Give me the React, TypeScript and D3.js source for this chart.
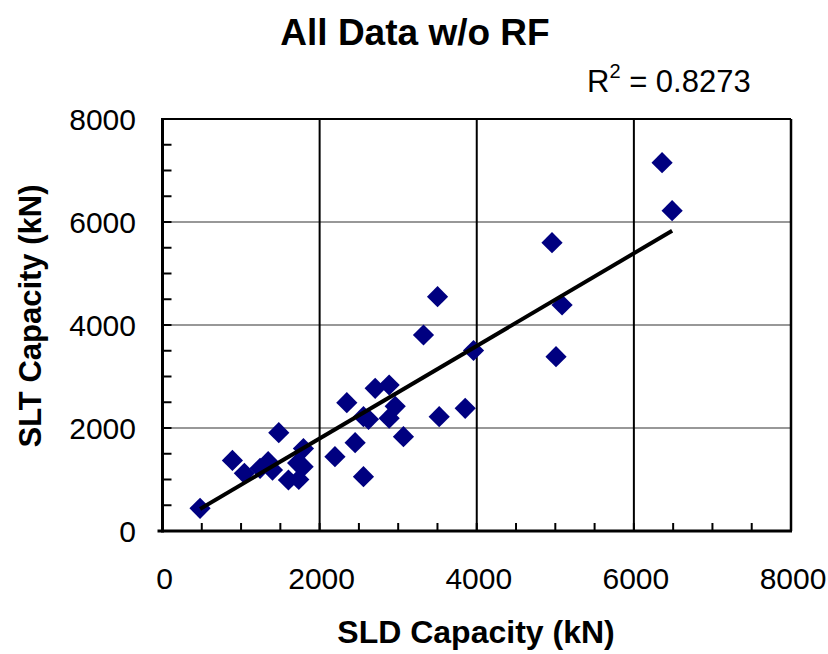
import React from "react";
import * as d3 from "d3";

const sldCapacity = [478, 890, 1042, 1242, 1345, 1400, 1480, 1603, 1735, 1794, 1720, 1790, 2195, 2346, 2452, 2558, 2558, 2622, 2707, 2885, 2962, 2885, 3067, 3322, 3501, 3522, 3853, 3959, 4958, 5009, 5086, 6359, 6487];
const sltCapacity = [441, 1370, 1120, 1217, 1346, 1184, 1909, 990, 1000, 1600, 1320, 1250, 1443, 2491, 1715, 1055, 2219, 2169, 2771, 2835, 2420, 2190, 1831, 3806, 4550, 2220, 2382, 3505, 5598, 3385, 4388, 7152, 6220];
const trendSlope = 0.899;
const trendIntercept = -2;
const majorTicks = [0, 2000, 4000, 6000, 8000];
const minorTicks = d3.range(0, 8001, 500);
const titleText = "All Data w/o RF";
const xTitle = "SLD Capacity (kN)";
const yTitle = "SLT Capacity (kN)";
const r2Value = "0.8273";

const W = 828, H = 654;
const L = 162.5, R = 791, T = 119, B = 531;

export default function App() {
  const x = d3.scaleLinear().domain([0, 8000]).range([L, R]);
  const y = d3.scaleLinear().domain([0, 8000]).range([B, T]);
  const xMin = d3.min(sldCapacity)!, xMax = d3.max(sldCapacity)!;
  const trend = d3.line<number>().x((d) => x(d)).y((d) => y(trendSlope * d + trendIntercept));
  const diamond = d3.symbol().type(d3.symbolSquare).size(15 * 15)();
  const font = "Arial, 'Liberation Sans', sans-serif";
  return (
    <svg width={W} height={H} style={{ position: "absolute", left: 0, top: 0, background: "#fff" }} fontFamily={font}>
      <rect x={0} y={0} width={W} height={H} fill="#fff" />
      {majorTicks.slice(1, -1).map((t) => (
        <line key={"h" + t} x1={L} x2={R} y1={y(t)} y2={y(t)} stroke="#333" strokeWidth={1.2} />
      ))}
      {majorTicks.slice(1, -1).map((t) => (
        <line key={"v" + t} x1={x(t)} x2={x(t)} y1={T} y2={B} stroke="#000" strokeWidth={2} />
      ))}
      {minorTicks.slice(1, -1).map((t) => (
        <line key={"mx" + t} x1={x(t)} x2={x(t)} y1={B} y2={B - 8} stroke="#000" strokeWidth={2} />
      ))}
      {minorTicks.slice(1, -1).map((t) => (
        <line key={"my" + t} x1={L} x2={L + 9} y1={y(t)} y2={y(t)} stroke="#000" strokeWidth={2} />
      ))}
      <line x1={L} x2={R} y1={T} y2={T} stroke="#000" strokeWidth={2} />
      <line x1={R} x2={R} y1={T} y2={B} stroke="#000" strokeWidth={2.5} />
      <line x1={L} x2={L} y1={T - 1} y2={B + 1.5} stroke="#000" strokeWidth={3} />
      <line x1={L - 5} x2={R + 1} y1={B} y2={B} stroke="#000" strokeWidth={3} />
      {sldCapacity.map((v, i) => (
        <path key={"p" + i} d={diamond!} transform={`translate(${x(v)},${y(sltCapacity[i])}) rotate(45)`} fill="#000080" />
      ))}
      <path d={trend([xMin, xMax])!} stroke="#000" strokeWidth={4} fill="none" />
      {majorTicks.map((t) => (
        <text key={"xl" + t} x={x(t) + 2} y={589} textAnchor="middle" fontSize={30}>{t}</text>
      ))}
      {majorTicks.map((t) => (
        <text key={"yl" + t} x={136} y={y(t) + 11} textAnchor="end" fontSize={30}>{t}</text>
      ))}
      <text x={415} y={45} textAnchor="middle" fontSize={37} fontWeight="bold">{titleText}</text>
      <text x={476} y={643} textAnchor="middle" fontSize={32} fontWeight="bold">{xTitle}</text>
      <text transform={`translate(41,316) rotate(-90)`} textAnchor="middle" fontSize={31} fontWeight="bold">{yTitle}</text>
      <text x={587} y={92} fontSize={31}>
        R<tspan fontSize={20} dy={-14}>2</tspan><tspan dy={14}>{" = " + r2Value}</tspan>
      </text>
    </svg>
  );
}
